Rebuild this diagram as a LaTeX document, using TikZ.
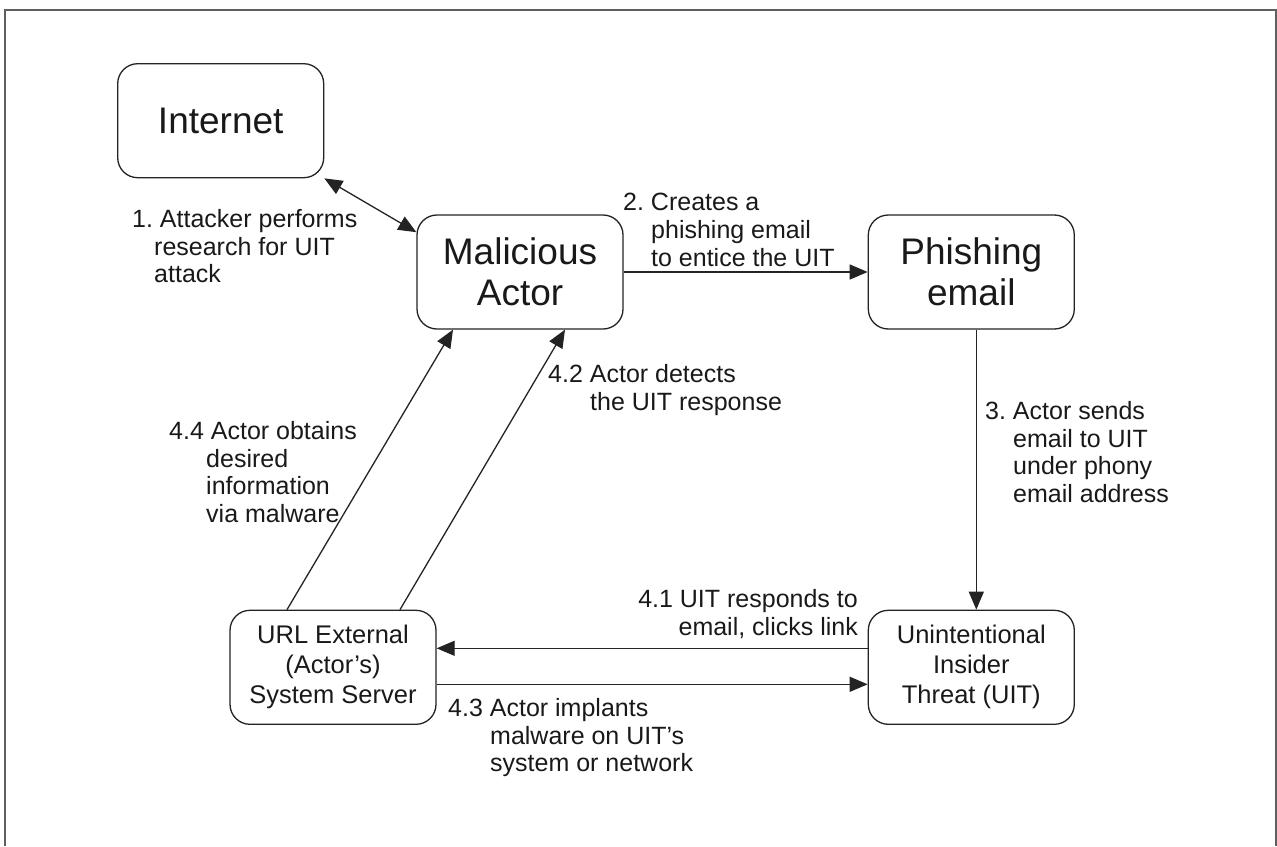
\documentclass[tikz,border=0pt]{standalone}
\usepackage{fontspec}
\setmainfont{Liberation Sans}
\usetikzlibrary{positioning,arrows.meta}
\definecolor{edgegray}{RGB}{35,35,35}
\definecolor{framegray}{RGB}{95,95,95}
\definecolor{textdark}{RGB}{25,25,25}
\frenchspacing

\begin{document}
\begin{tikzpicture}[
    x=1pt, y=1pt,
    every node/.style={align=center, text=textdark},
    bigbox/.style={rectangle, rounded corners=20pt, minimum width=206pt, minimum height=114pt, draw=edgegray, line width=1.3pt, font=\fontsize{37}{41}\selectfont},
    smallbox/.style={bigbox, font=\fontsize{25.5}{30}\selectfont},
    lbl/.style={inner sep=0pt, align=left, font=\fontsize{25}{27.8}\selectfont},
    arrow/.style={line width=1.3pt, draw=edgegray, ->, >={Triangle[length=18pt,width=15pt]}}
]
\useasboundingbox (0,0) rectangle (1277,-846);

% Frame
\draw[framegray, line width=1.5pt] (5,-846) -- (5,-10) -- (1276,-10) -- (1276,-846);

% Main boxes
\node[bigbox] (actor) at (520,-272) {Malicious\\Actor};
\node[bigbox, above left=36pt and 92pt of actor] (internet) {Internet};
\node[bigbox, right=244pt of actor] (phish) {Phishing\\email};

% Lower boxes
\node[smallbox, below=280pt of phish] (uit) {Unintentional\\Insider\\Threat (UIT)};
\node[smallbox, left=431pt of uit] (url) {URL External\\(Actor’s)\\System Server};

% Connections
\draw[arrow, <->] (internet.south east) -- (actor.159);
\draw[arrow] (actor) -- (phish);
\draw[arrow] ([xshift=5pt]phish.south) -- ([xshift=5pt]uit.north);
\draw[arrow] ([yshift=19pt]uit.west) -- ([yshift=19pt]url.east);
\draw[arrow] ([yshift=-17pt]url.east) -- ([yshift=-17pt]uit.west);
\draw[arrow] ([xshift=67pt]url.north) -- ([xshift=45pt]actor.south);
\draw[arrow] ([xshift=-46pt]url.north) -- ([xshift=-67pt]actor.south);

% Step labels
\node[lbl, anchor=north west] (step1) at (132,-209) {1. Attacker performs\\\hspace*{22pt}research for UIT\\\hspace*{22pt}attack};
\node[lbl, anchor=north west] (step2) at (623,-193) {2. Creates a\\\hspace*{28pt}phishing email\\\hspace*{28pt}to entice the UIT};
\node[lbl, anchor=north west] (step3) at (985,-401) {3. Actor sends\\\hspace*{28pt}email to UIT\\\hspace*{28pt}under phony\\\hspace*{28pt}email address};
\node[lbl, anchor=north east, align=right] (step41) at (858,-589) {4.1 UIT responds to\\email, clicks link};
\node[lbl, anchor=north west] (step42) at (548,-364) {4.2 Actor detects\\\hspace*{42pt}the UIT response};
\node[lbl, anchor=north west] (step43) at (448,-698) {4.3 Actor implants\\\hspace*{42pt}malware on UIT’s\\\hspace*{42pt}system or network};
\node[lbl, anchor=north west] (step44) at (169,-421) {4.4 Actor obtains\\\hspace*{37pt}desired\\\hspace*{37pt}information\\\hspace*{37pt}via malware};

\end{tikzpicture}
\end{document}
